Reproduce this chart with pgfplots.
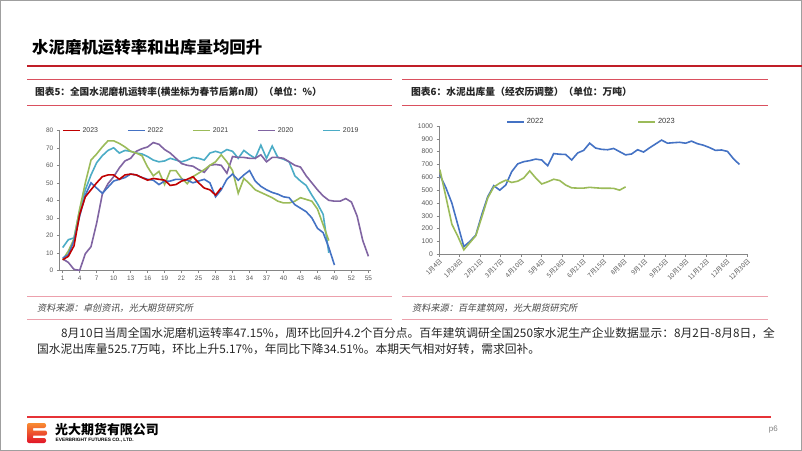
\documentclass[border=0pt]{standalone}
\usepackage{fontspec}
\setmainfont{Liberation Sans}
\newfontfamily\cjk{Noto Sans CJK SC}
\newfontfamily\cjkit{Noto Sans CJK SC}[FakeSlant=0.2]
\usepackage{pgfplots}
\pgfplotsset{compat=1.18}
\definecolor{cA}{RGB}{192,0,0}
\definecolor{cB}{RGB}{68,114,196}
\definecolor{cC}{RGB}{155,187,89}
\definecolor{cD}{RGB}{128,100,162}
\definecolor{cE}{RGB}{75,172,198}
\definecolor{titlered}{RGB}{192,30,40}
\definecolor{caprule}{RGB}{218,80,95}
\definecolor{srcrule}{RGB}{236,160,172}
\definecolor{footred}{RGB}{230,50,55}
\definecolor{tickgray}{RGB}{89,89,89}
\definecolor{axgray}{RGB}{134,134,134}
\definecolor{txt}{RGB}{38,38,38}
\pgfplotsset{
  slide/.style={
    scale only axis,
    axis x line=bottom, axis y line=left,
    axis line style={draw=axgray,line width=0.7pt,-},
    tick align=outside, major tick length=2.5bp,
    tick style={draw=axgray,line width=0.6pt},
    tick label style={text=tickgray},
    /pgf/number format/assume math mode=true,
    /pgf/number format/1000 sep={},
    scaled ticks=false,
    clip=false,
    legend image code/.code={\draw[#1,line width=1.6pt] (0bp,0bp) -- (17bp,0bp);},
  },
}
\begin{document}
\begin{tikzpicture}
\path[use as bounding box] (0,0) rectangle (802bp,-451bp);
\fill[white] (0,0) rectangle (802bp,-451bp);
\draw[gray!75,line width=1.2bp] (0.6bp,-0.6bp) rectangle (801.4bp,-450.4bp);
% title
\node[anchor=west,inner sep=0pt,text=black] at (32bp,-47bp) {\cjk\bfseries\fontsize{16.5}{18}\selectfont 水泥磨机运转率和出库量均回升};
\draw[titlered,line width=2.2bp] (27bp,-66bp) -- (802bp,-66bp);
% caption rules
\draw[caprule,line width=1bp] (27bp,-79.5bp) -- (392bp,-79.5bp);
\draw[caprule,line width=1bp] (27bp,-105bp) -- (392bp,-105bp);
\draw[caprule,line width=1bp] (402bp,-79.5bp) -- (768bp,-79.5bp);
\draw[caprule,line width=1bp] (402bp,-105bp) -- (768bp,-105bp);
\draw[srcrule,line width=1bp] (27bp,-296bp) -- (392bp,-296bp);
\draw[srcrule,line width=1bp] (27bp,-319bp) -- (392bp,-319bp);
\draw[srcrule,line width=1bp] (402bp,-296bp) -- (768bp,-296bp);
\draw[srcrule,line width=1bp] (402bp,-319bp) -- (768bp,-319bp);
\node[anchor=west,inner sep=0pt,text=txt] at (35bp,-92bp) {\cjk\bfseries\fontsize{9.7}{10}\selectfont 图表5：全国水泥磨机运转率(横坐标为春节后第n周）（单位：\%）};
\node[anchor=west,inner sep=0pt,text=txt] at (411bp,-92bp) {\cjk\bfseries\fontsize{9.8}{10}\selectfont 图表6：水泥出库量（经农历调整）（单位：万吨）};
\node[anchor=west,inner sep=0pt,text=txt!85] at (37bp,-308bp) {\cjkit\fontsize{9.2}{9.5}\selectfont 资料来源：卓创资讯，光大期货研究所};
\node[anchor=west,inner sep=0pt,text=txt!85] at (412bp,-308bp) {\cjkit\fontsize{9.2}{9.5}\selectfont 资料来源：百年建筑网，光大期货研究所};
% paragraph
\node[anchor=west,inner sep=0pt,text=txt] at (61bp,-333bp) {\cjk\fontsize{11.8}{12}\selectfont 8月10日当周全国水泥磨机运转率47.15\%，周环比回升4.2个百分点。百年建筑调研全国250家水泥生产企业数据显示：8月2日-8月8日，全};
\node[anchor=west,inner sep=0pt,text=txt] at (37bp,-349bp) {\cjk\fontsize{11.8}{12}\selectfont 国水泥出库量525.7万吨，环比上升5.17\%，年同比下降34.51\%。本期天气相对好转，需求回补。};
% footer
\draw[footred,line width=1.5bp] (27bp,-417bp) -- (771bp,-417bp);
\shade[top color={rgb,255:red,248;green,140;blue,50},bottom color={rgb,255:red,225;green,20;blue,40},rounded corners=2bp]
  (27bp,-423bp) rectangle (33bp,-443bp)
  (30bp,-423bp) rectangle (46bp,-428bp)
  (30bp,-430.5bp) rectangle (47bp,-435.5bp)
  (30bp,-438bp) rectangle (46bp,-443bp);
\node[anchor=west,inner sep=0pt,text=black] at (55bp,-429.5bp) {\cjk\bfseries\fontsize{13}{14}\selectfont 光大期货有限公司};
\node[anchor=west,inner sep=0pt,text=black] at (55.5bp,-440bp) {\bfseries\fontsize{4.8}{5}\selectfont EVERBRIGHT FUTURES CO., LTD.};
\node[anchor=east,inner sep=0pt,text=gray] at (778bp,-430bp) {\fontsize{8}{9}\selectfont p6};

% left chart
\begin{axis}[slide,
  at={(59.3bp,-270.3bp)}, anchor=south west,
  width=311.4bp, height=140bp,
  xmin=0.4, xmax=55.4, ymin=0, ymax=80,
  xtick={1,4,...,55}, ytick={0,10,...,80},
  tick label style={font=\fontsize{6.5}{7}\selectfont},
  legend columns=5,
  legend style={at={(0.008,0.998)},anchor=west,draw=none,fill=none,inner sep=0pt,
    font=\fontsize{7}{8}\selectfont,text=txt!90,
    /tikz/every even column/.style={column sep=27bp}},
]
\addlegendimage{cA}\addlegendentry{2023}
\addlegendimage{cB}\addlegendentry{2022}
\addlegendimage{cC}\addlegendentry{2021}
\addlegendimage{cD}\addlegendentry{2020}
\addlegendimage{cE}\addlegendentry{2019}
\addplot[forget plot,cE,line width=1.6pt] coordinates {(1,13)(2,17.5)(3,18.5)(4,34.5)(5,46)(6,54.5)(7,61.5)(8,65.5)(9,68.5)(10,70)(11,67)(12,68.5)(13,68)(14,67)(15,66.5)(16,65)(17,63)(18,62)(19,62.5)(20,64)(21,63)(22,62)(23,63)(24,64.5)(25,64)(26,63)(27,67)(28,68)(29,67)(30,69)(31,68)(32,64)(33,68.5)(34,66)(35,64)(36,71.5)(37,64)(38,71)(39,64.5)(40,63.5)(41,62)(42,54)(43,51)(44,48.5)(45,43)(46,38)(47,32)(48,10)};
\addplot[forget plot,cD,line width=1.6pt] coordinates {(1,6.5)(2,4.5)(3,0.5)(4,0)(5,9.5)(6,13.5)(7,27)(8,43.5)(9,49.5)(10,53.5)(11,58.5)(12,62.5)(13,64)(14,68)(15,69.5)(16,70.5)(17,73)(18,72)(19,69)(20,67)(21,64)(22,61)(23,60)(24,59.5)(25,57.5)(26,56)(27,60)(28,60.5)(29,60)(30,55.5)(31,65)(32,64.5)(33,64.5)(34,64)(35,64)(36,66)(37,62)(38,64.5)(39,64.5)(40,64)(41,62)(42,60)(43,59)(44,54)(45,50)(46,46)(47,42.5)(48,40)(49,39.5)(50,39.5)(51,41)(52,39)(53,31)(54,17)(55,8)};
\addplot[forget plot,cC,line width=1.6pt] coordinates {(1,6)(2,11)(3,18)(4,35)(5,50)(6,63)(7,66.5)(8,70.5)(9,74)(10,74)(11,72.5)(12,70.5)(13,68)(14,67)(15,65.5)(16,59)(17,54)(18,56.5)(19,49)(20,57)(21,57)(22,52.5)(23,49.5)(24,53.5)(25,55.5)(26,57.5)(27,60)(28,62)(29,66)(30,62)(31,57)(32,44)(33,52.5)(34,49.5)(35,46)(36,44.5)(37,43)(38,41.5)(39,39.5)(40,38.5)(41,38.5)(42,39.5)(43,41.5)(44,40.5)(45,39.5)(46,35)(47,26)(48,17)};
\addplot[forget plot,cB,line width=1.6pt] coordinates {(1,7)(2,9)(3,17)(4,31)(5,43)(6,50)(7,47)(8,44)(9,47.5)(10,51)(11,52)(12,53)(13,55)(14,54.5)(15,53)(16,52)(17,51.5)(18,49)(19,51)(20,51)(21,52)(22,52)(23,51.5)(24,50)(25,51)(26,52)(27,50)(28,42)(29,46)(30,52)(31,55)(32,51.5)(33,54.5)(34,57)(35,51)(36,48)(37,46)(38,44.5)(39,43.5)(40,42)(41,41.5)(42,37.5)(43,35.5)(44,33.5)(45,30)(46,24)(47,21.5)(48,13)(49,3)};
\addplot[forget plot,cA,line width=1.6pt] coordinates {(1,6)(2,8)(3,14)(4,32)(5,42)(6,46)(7,50)(8,53.5)(9,54.5)(10,54.5)(11,52)(12,54.5)(13,55)(14,54.5)(15,53)(16,51.5)(17,52.5)(18,52)(19,51.5)(20,48.5)(21,49)(22,51)(23,52)(24,53.5)(25,50)(26,47)(27,46)(28,43)(29,47.15)};
\end{axis}

% right chart
\begin{axis}[slide,
  at={(439bp,-254.3bp)}, anchor=south west,
  width=309bp, height=128.3bp,
  xmin=0, xmax=361, ymin=0, ymax=1000,
  xtick={0,24,...,360}, ytick={0,100,...,1000},
  xticklabels={1月4日,1月28日,2月21日,3月17日,4月10日,5月4日,5月28日,6月21日,7月15日,8月8日,9月1日,9月25日,10月19日,11月12日,12月6日,12月30日},
  y tick label style={font=\fontsize{6.8}{7}\selectfont},
  x tick label style={font=\cjk\fontsize{6.4}{6.4}\selectfont,rotate=45,anchor=north east,inner sep=0.8bp},
  legend columns=2,
  legend style={at={(0.217,1.031)},anchor=west,draw=none,fill=none,inner sep=0pt,
    font=\fontsize{7.5}{8}\selectfont,text=txt!90,
    /tikz/every even column/.style={column sep=92bp}},
]
\addplot[cB,line width=1.6pt] coordinates {(1,618)(8,520)(15,400)(22,230)(29,60)(36,100)(43,150)(50,310)(57,450)(64,535)(71,500)(78,540)(85,645)(92,705)(99,722)(106,730)(113,742)(120,735)(127,690)(134,785)(141,780)(148,778)(155,735)(162,790)(169,810)(176,866)(183,828)(190,818)(197,815)(204,825)(211,800)(218,775)(225,782)(232,815)(239,797)(246,830)(253,860)(260,890)(267,866)(274,870)(281,873)(288,866)(295,882)(302,862)(309,850)(316,832)(323,810)(330,813)(337,802)(344,745)(351,700)};
\addlegendentry{2022}
\addplot[cC,line width=1.6pt] coordinates {(1,660)(8,450)(15,235)(22,140)(29,35)(36,90)(43,145)(50,290)(57,440)(64,525)(71,555)(78,578)(85,560)(92,570)(99,595)(106,650)(113,595)(120,548)(127,565)(134,585)(141,575)(148,540)(155,518)(162,516)(169,516)(176,522)(183,518)(190,515)(197,515)(204,514)(211,500)(218,525.7)};
\addlegendentry{2023}
\end{axis}
\end{tikzpicture}
\end{document}
